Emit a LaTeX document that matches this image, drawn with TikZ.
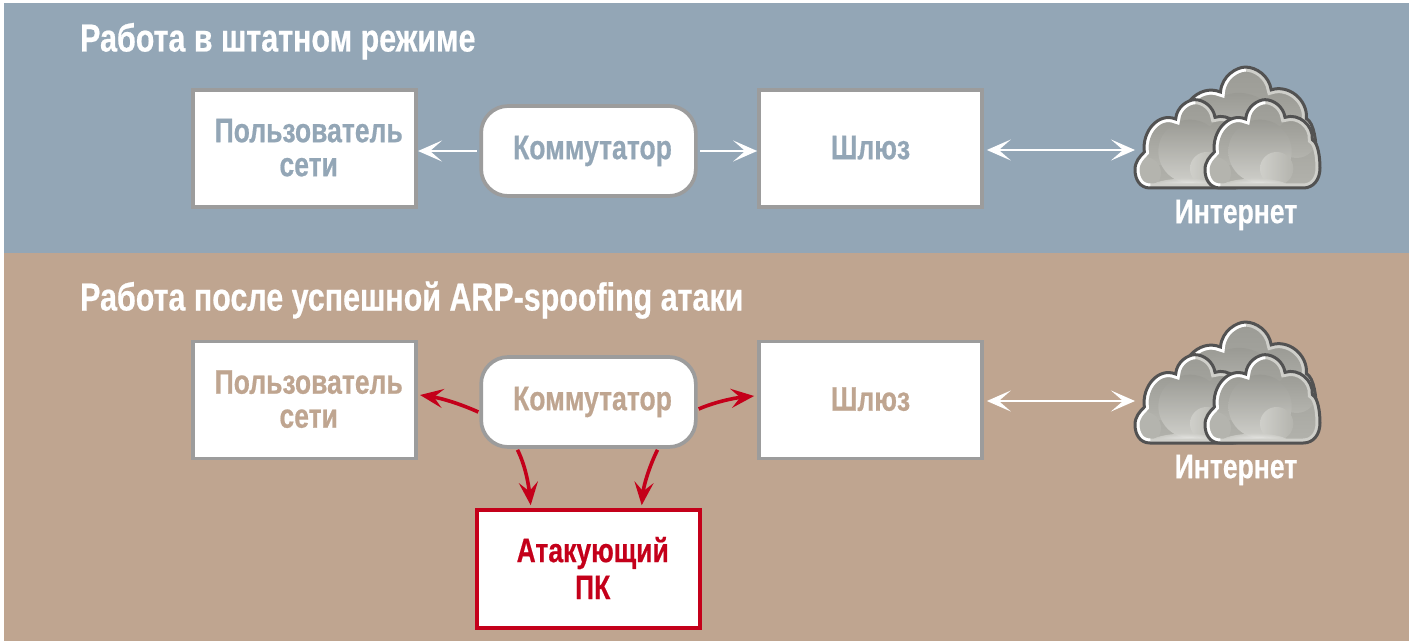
\documentclass[tikz,border=0pt]{standalone}
\usepackage{fontspec}
\setmainfont{Liberation Sans}
\newfontfamily\condfont[FakeStretch=0.78,BoldFeatures={FakeBold=0.5}]{Liberation Sans}
\usetikzlibrary{arrows.meta,calc}
\definecolor{bluebg}{HTML}{93A6B6}
\definecolor{tanbg}{HTML}{BFA590}
\definecolor{boxedge}{HTML}{9C9C9C}
\definecolor{redc}{HTML}{C4001A}
\definecolor{cloudd}{HTML}{9A9A94}
\definecolor{cloudm}{HTML}{B4B4AE}
\definecolor{cloudl}{HTML}{CFCFCA}
\newcommand\boxline[1]{\hspace*{8pt}\raisebox{2pt}{#1}}
\tikzset{
  x=1pt,y=-1pt,
  every node/.style={font=\condfont\bfseries\fontsize{34}{34}\selectfont,align=center,inner sep=0pt},
  bgband/.style={fill=#1,draw=none},
  titletext/.style={text=white,anchor=base west,font=\condfont\bfseries\fontsize{39}{39}\selectfont},
  cloudtext/.style={text=white,font=\condfont\bfseries\fontsize{34}{34}\selectfont},
  plainbox/.style={draw=boxedge,fill=white,line width=3.7pt,minimum width=223pt,minimum height=117pt},
  switchbox/.style={draw=boxedge,fill=white,line width=3.7pt,rounded corners=27pt,minimum width=214.7pt,minimum height=90pt},
  attackbox/.style={draw=redc,fill=white,line width=4pt,minimum width=223pt,minimum height=117.5pt,text=redc},
  whitearrow/.style={draw=white,line width=1.8pt,{Stealth[length=24pt,width=21pt,inset=12pt]}-{Stealth[length=24pt,width=21pt,inset=12pt]}},
  whiteone/.style={draw=white,line width=1.8pt,shorten <=2.5pt,-{Stealth[length=24pt,width=21pt,inset=12pt]}},
  redarrow/.style={draw=redc,line width=3.6pt,-{Stealth[length=23pt,width=19pt,inset=9pt]}},
}
\def\cloudshape{(45,0) .. controls (15,0) and (0,-25) .. (0,-55) .. controls (0,-80) and (15,-95) .. (28,-108)
 .. controls (20,-170) and (70,-228) .. (122,-207) .. controls (125,-245) and (160,-265) .. (180,-265)
 .. controls (205,-265) and (235,-245) .. (240,-212) .. controls (280,-225) and (325,-190) .. (322,-145)
 .. controls (340,-135) and (345,-90) .. (345,-60) .. controls (345,-25) and (325,0) .. (295,0) -- cycle}
\tikzset{
 cloudone/.pic={
  \begin{scope}
   \clip \cloudshape;
   \shade[top color=cloudd,bottom color=cloudm] (-20,-280) rectangle (360,20);
   \shade[top color=cloudd,bottom color=cloudm] (80,-140) circle (72);
   \shade[top color=cloudd,bottom color=cloudm] (275,-150) circle (60);
   \shade[top color=cloudm,bottom color=cloudm] (30,-45) circle (48);
   \shade[top color=cloudd,bottom color=cloudl] (165,-110) circle (95);
   \shade[left color=cloudl,right color=cloudm] (215,-58) circle (50);
   \shade[inner color=white,outer color=cloudl,opacity=.85] (150,-4) ellipse (100 and 24);
   \draw[line width=9pt,draw=cloudl] \cloudshape;
   \draw[line width=9pt,draw=white] (45,0) .. controls (15,0) and (0,-25) .. (0,-55) .. controls (0,-80) and (15,-95) .. (28,-108)
     .. controls (20,-170) and (70,-228) .. (122,-207) .. controls (125,-245) and (160,-265) .. (180,-265);
  \end{scope}
  \draw[line width=3pt,draw=black!68!white] \cloudshape;
 },
 cloudgroup/.pic={
  \pic at (-37,-7) [scale=0.43] {cloudone};
  \pic at (-70,0) [scale=0.3333] {cloudone};
  \pic at (0,0) [scale=0.3333] {cloudone};
 }
}
\begin{document}
\begin{tikzpicture}
\useasboundingbox (0,0) rectangle (1413,644);
\fill[white] (0,0) rectangle (1413,644);
\fill[bgband=bluebg] (4,3) rectangle (1409,253);
\fill[bgband=tanbg] (4,253) rectangle (1409,641);

\node[titletext] (t1) at (80,51.5) {Работа в штатном режиме};
\node[titletext] (t2) at (80,310.5) {Работа после успешной ARP-spoofing атаки};

% top row
\node[plainbox,text=bluebg] (u1) at (304.7,148.5) {\boxline{Пользователь}\\\boxline{сети}};
\node[switchbox,text=bluebg] (s1) at (588.5,151) {\boxline{Коммутатор}};
\node[plainbox,text=bluebg] (g1) at (870.5,148.5) {\raisebox{2pt}{Шлюз}};
\pic at (1205,188) {cloudgroup};
\coordinate (c1) at (1135,150);
\node[cloudtext] (i1) at (1236,215) {Интернет};

% bottom row
\node[plainbox,text=tanbg] (u2) at (304.7,400) {\boxline{Пользователь}\\\boxline{сети}};
\node[switchbox,text=tanbg] (s2) at (588.5,402) {\boxline{Коммутатор}};
\node[plainbox,text=tanbg] (g2) at (870.5,400) {\raisebox{2pt}{Шлюз}};
\node[attackbox] (a2) at (588.7,569) {\boxline{Атакующий}\\[3pt]\boxline{ПК}};
\pic at (1205,443) {cloudgroup};
\coordinate (c2) at (1135,401);
\node[cloudtext] (i2) at (1236,470) {Интернет};

\draw[whiteone] (s1.west) -- (s1.west -| u1.east);
\draw[whiteone] (s1.east) -- (s1.east -| g1.west);
\draw[whitearrow] ($(g1.east)+(3,1.5)$) -- (c1);
\draw[whitearrow] ($(g2.east)+(3,1)$) -- (c2);

\coordinate (sl) at ($(s2.west)+(-1,10)$);
\coordinate (sr) at ($(s2.east)+(1,7)$);
\coordinate (sbl) at ($(s2.south)+(-71,1)$);
\coordinate (sbr) at ($(s2.south)+(69,1)$);
\coordinate (ul) at ($(u2.east)+(2,-5)$);
\coordinate (gl) at ($(g2.west)+(-3,-4)$);
\coordinate (al) at ($(a2.north)+(-58,-3)$);
\coordinate (ar) at ($(a2.north)+(53,-3)$);
\draw[redarrow] (sl) .. controls ($(sl)+(-20,-9)$) and ($(ul)+(20,3)$) .. (ul);
\draw[redarrow] (sr) .. controls ($(sr)+(16,-7)$) and ($(gl)+(-20,2)$) .. (gl);
\draw[redarrow] (sbl) .. controls ($(sbl)+(8,16)$) and ($(al)+(-2,-20)$) .. (al);
\draw[redarrow] (sbr) .. controls ($(sbr)+(-8,16)$) and ($(ar)+(2,-20)$) .. (ar);
\end{tikzpicture}
\end{document}
